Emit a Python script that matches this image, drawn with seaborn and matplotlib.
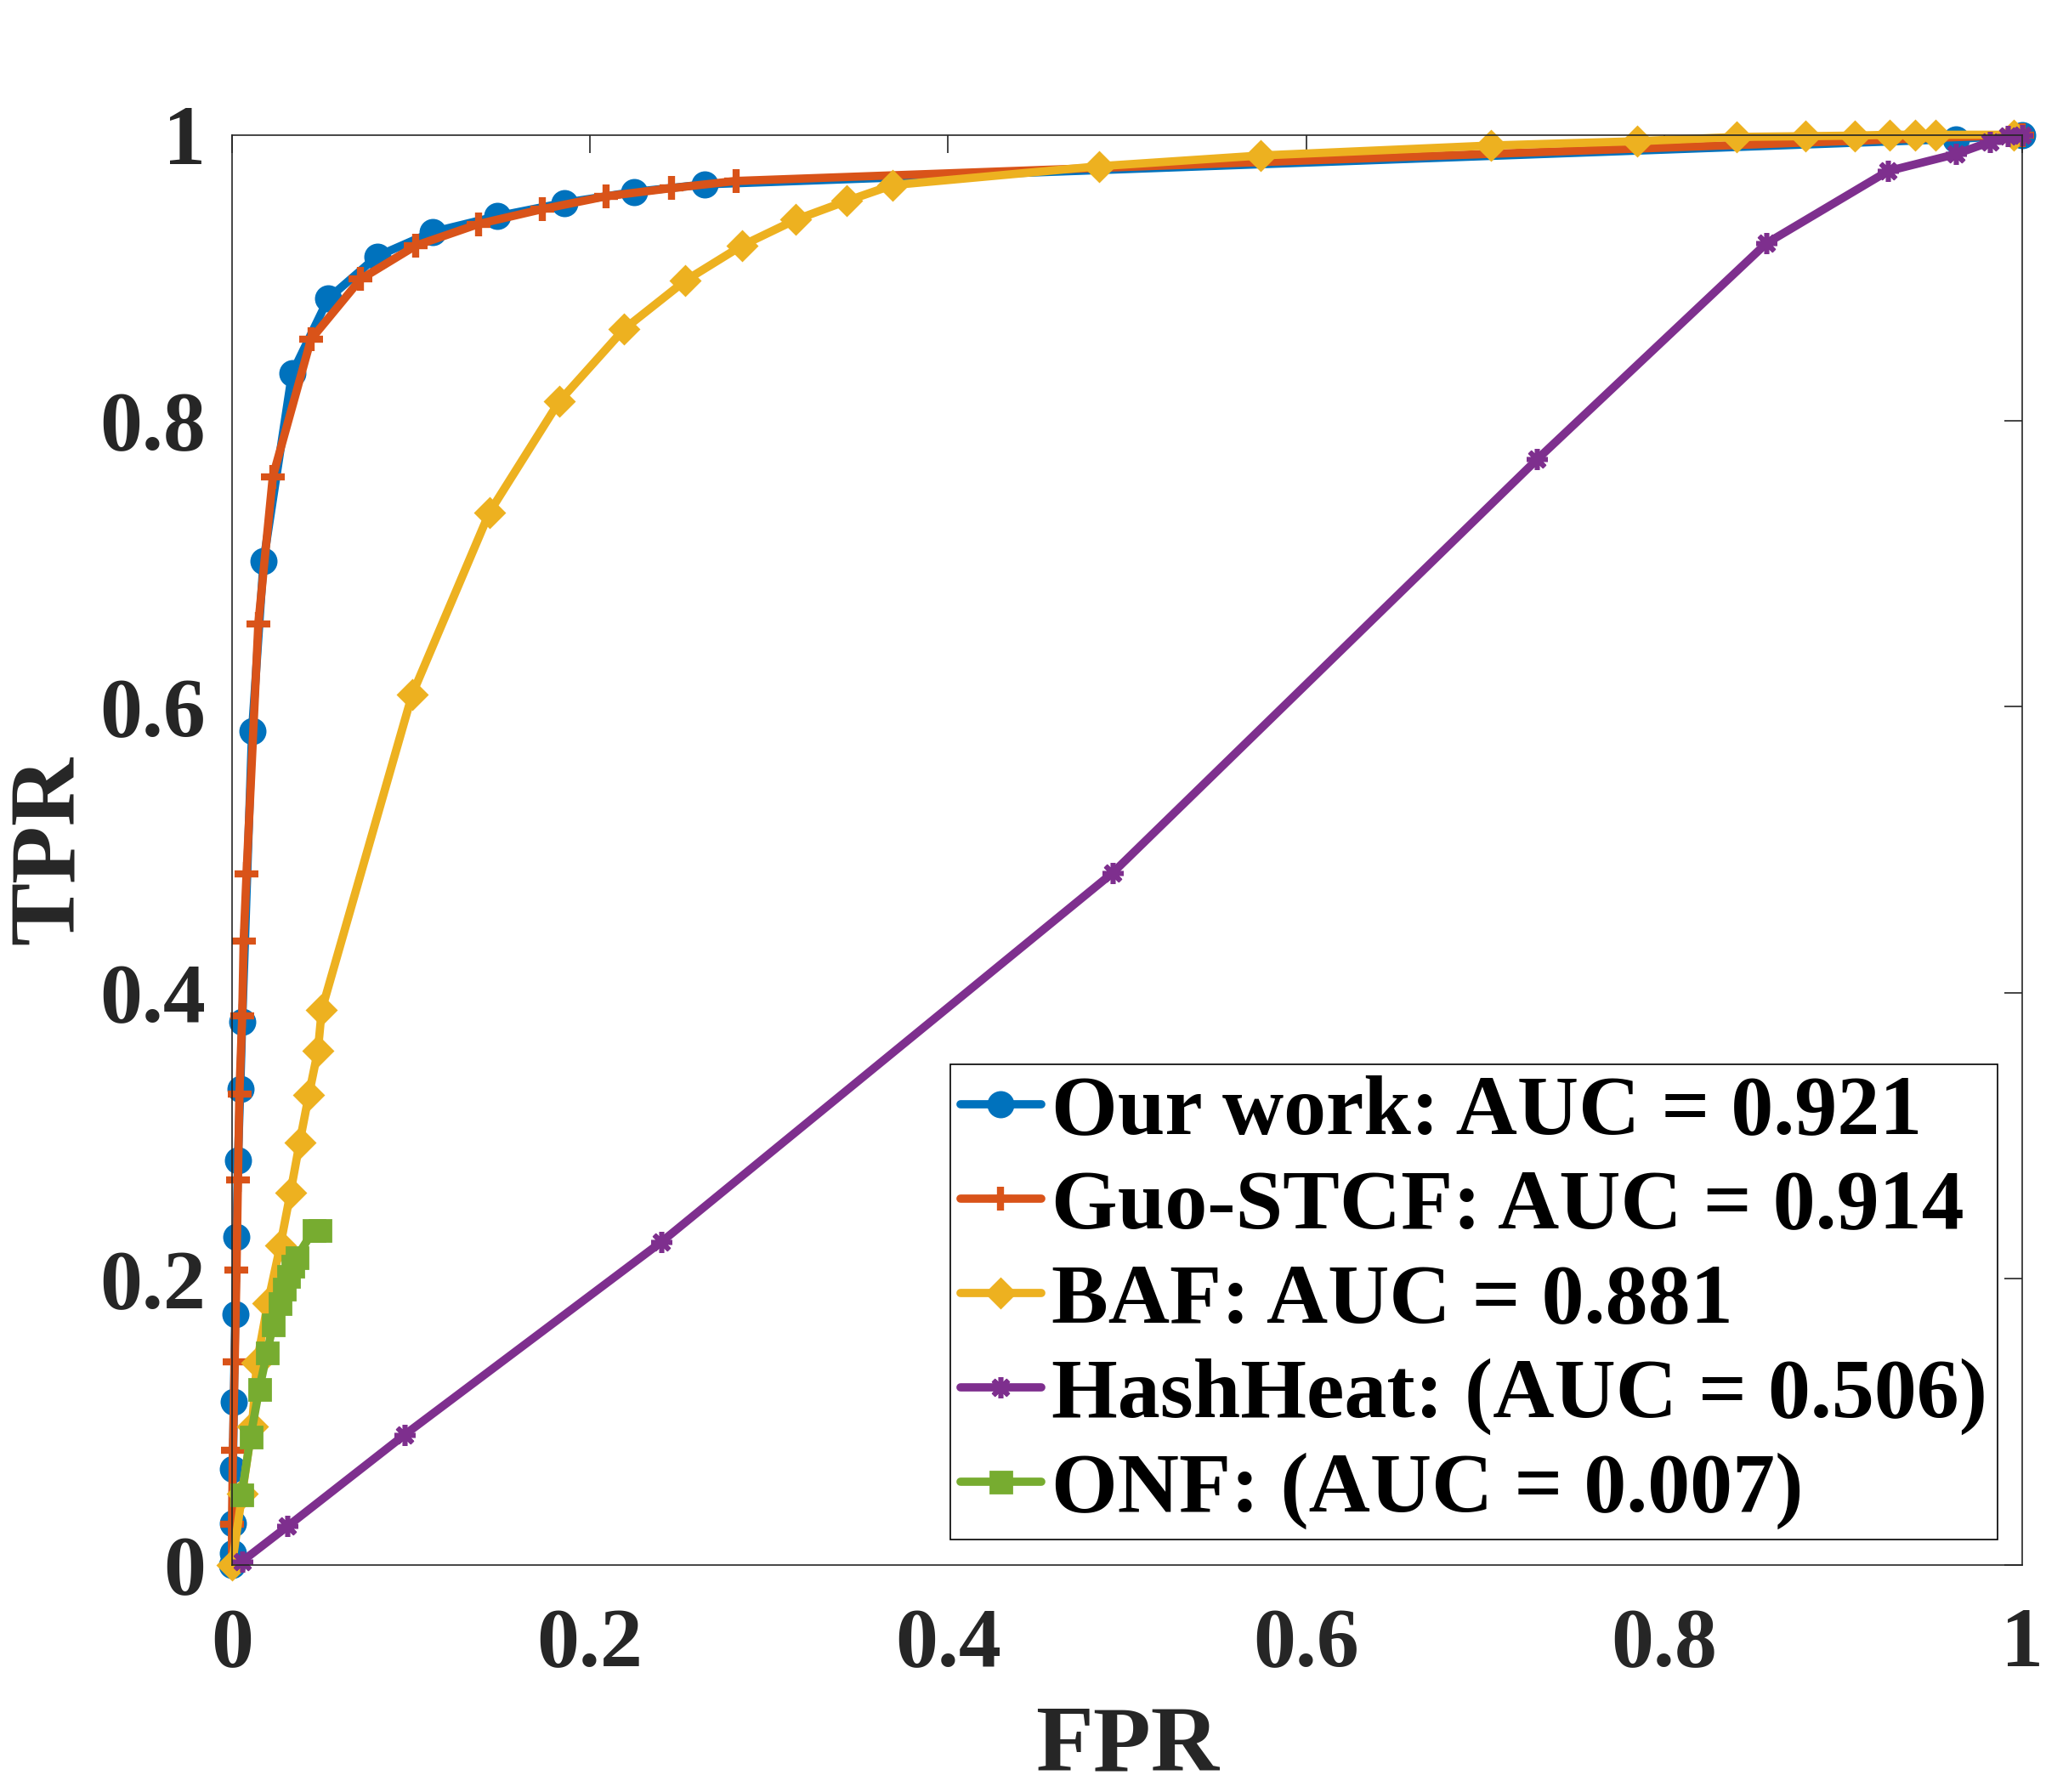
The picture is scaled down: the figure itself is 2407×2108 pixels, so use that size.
import numpy as np
import pandas as pd
import matplotlib
matplotlib.use("Agg")
import matplotlib.pyplot as plt
import seaborn as sns

# ROC points
ours_fpr = [0.0, 0.0003, 0.0003, 0.0005, 0.001, 0.0018, 0.0025, 0.0033, 0.0046, 0.0057,
            0.0112, 0.0176, 0.0335, 0.0538, 0.081, 0.112, 0.148, 0.1856, 0.2244, 0.264,
            0.963, 1.0]
ours_tpr = [0.0, 0.0085, 0.029, 0.067, 0.114, 0.1754, 0.2295, 0.2826, 0.333, 0.380,
            0.5832, 0.7017, 0.833, 0.8855, 0.915, 0.932, 0.943, 0.9524, 0.960, 0.9653,
            0.997, 1.0]

guo_fpr = [0.0, 0.0, 0.0005, 0.0015, 0.0025, 0.0033, 0.0041, 0.0057, 0.0065, 0.0081,
           0.0147, 0.0228, 0.0441, 0.0718, 0.1027, 0.1377, 0.1734, 0.209, 0.2457, 0.2815,
           1.0]
guo_tpr = [0.0, 0.0285, 0.080, 0.142, 0.206, 0.269, 0.329, 0.384, 0.436, 0.483,
           0.658, 0.761, 0.857, 0.899, 0.9225, 0.9376, 0.948, 0.957, 0.9627, 0.9677,
           1.0]

baf_fpr = [0.0, 0.0057, 0.0112, 0.0139, 0.020, 0.027, 0.0326, 0.0378, 0.0429, 0.048,
           0.0501, 0.1006, 0.1438, 0.1828, 0.2189, 0.2532, 0.285, 0.3149, 0.3433, 0.369,
           0.4845, 0.5747, 0.7034, 0.785, 0.8405, 0.879, 0.9065, 0.926, 0.940, 0.9517,
           0.995]
baf_tpr = [0.0, 0.050, 0.097, 0.1413, 0.183, 0.2235, 0.260, 0.2955, 0.3286, 0.3597,
           0.388, 0.6085, 0.736, 0.8136, 0.864, 0.898, 0.9226, 0.9406, 0.9537, 0.9648,
           0.978, 0.9855, 0.9925, 0.9955, 0.9985, 0.999, 0.9994, 1.0, 1.0, 1.0,
           1.0]

hash_fpr = [0.0057, 0.031, 0.0964, 0.240, 0.492, 0.729, 0.857, 0.925, 0.963, 0.982,
            0.992, 1.0]
hash_tpr = [0.0026, 0.027, 0.091, 0.226, 0.484, 0.773, 0.924, 0.9746, 0.9865, 0.995,
            0.999, 1.0]

onf_fpr = [0.0054, 0.0104, 0.0152, 0.0196, 0.0229, 0.0264, 0.029, 0.0313, 0.0337, 0.0361,
           0.0456, 0.049]
onf_tpr = [0.049, 0.090, 0.123, 0.1486, 0.168, 0.183, 0.1934, 0.2023, 0.2093, 0.2152,
           0.234, 0.234]

labels = ["Our work: AUC = 0.921", "Guo-STCF: AUC = 0.914", "BAF: AUC = 0.881",
          "HashHeat: (AUC = 0.506)", "ONF: (AUC = 0.007)"]

sns.set_style("white")
plt.rcParams["font.family"] = ["Liberation Serif", "DejaVu Serif"]
plt.rcParams["font.weight"] = "bold"

fig = plt.figure(figsize=(24.07, 21.08), dpi=100)
ax = fig.add_axes([0.1134, 0.1267, 0.875, 0.7981])

series = [
    (ours_fpr, ours_tpr, "#0072BD", dict(marker="o", markersize=21, markeredgewidth=2)),
    (guo_fpr, guo_tpr, "#D95319", dict(marker="+", markersize=20, markeredgewidth=6)),
    (baf_fpr, baf_tpr, "#EDB120", dict(marker="D", markersize=17, markeredgewidth=2)),
    (hash_fpr, hash_tpr, "#7E2F8E", dict(marker=(8, 2, 0), markersize=18, markeredgewidth=4)),
    (onf_fpr, onf_tpr, "#77AC30", dict(marker="s", markersize=18, markeredgewidth=2)),
]

for (fpr, tpr, color, mk), label in zip(series, labels):
    df = pd.DataFrame({"FPR": fpr, "TPR": tpr})
    sns.lineplot(data=df, x="FPR", y="TPR", ax=ax, sort=False, estimator=None,
                 color=color, linewidth=7, markeredgecolor=color, markerfacecolor=color,
                 clip_on=False, label=label, **mk)

ax.set_xlim(0, 1)
ax.set_ylim(0, 1)
ticks = [0, 0.2, 0.4, 0.6, 0.8, 1]
tick_labels = ["0", "0.2", "0.4", "0.6", "0.8", "1"]
ax.set_xticks(ticks)
ax.set_xticklabels(tick_labels)
ax.set_yticks(ticks)
ax.set_yticklabels(tick_labels)

ax.tick_params(direction="in", length=15, width=1.2, top=True, right=True,
               labelsize=72, colors="#262626")
ax.tick_params(axis="x", pad=36)
ax.tick_params(axis="y", pad=22)
for s in ax.spines.values():
    s.set_color("#262626")
    s.set_linewidth(1.2)

ax.set_xlabel("FPR", fontsize=80, fontweight="bold", color="#262626", labelpad=18)
ax.set_ylabel("TPR", fontsize=80, fontweight="bold", color="#262626", labelpad=6)

leg = ax.legend(loc="lower right", bbox_to_anchor=(0.986, 0.0178), borderaxespad=0,
                fontsize=72, frameon=True, fancybox=False, framealpha=1,
                edgecolor="#000000", numpoints=1, handlelength=0.95,
                handletextpad=0.12, labelspacing=0.2, borderpad=0.12)
leg.get_frame().set_linewidth(1.2)
for t in leg.get_texts():
    t.set_color("#000000")

fig.savefig("out.png", dpi=100)
plt.close(fig)
